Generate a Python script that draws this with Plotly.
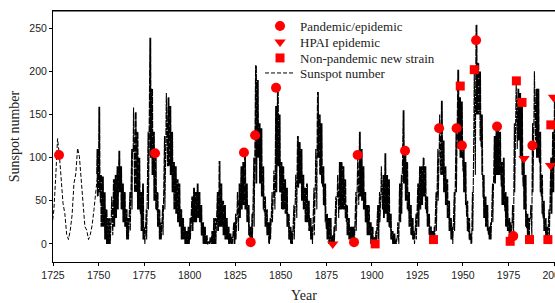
import plotly.graph_objects as go

# ---------------- data ----------------
# yearly sunspot numbers for the early (yearly-resolution) part
early_years = list(range(1724, 1750))
early_ssn = [21, 40, 78, 122, 103, 73, 47, 35, 11, 5, 16, 34, 70, 81, 111,
             101, 73, 40, 20, 16, 5, 11, 22, 40, 60, 81]

# monthly-resolution part, summarised per year: yearly mean, monthly high, monthly low
band_years = list(range(1749, 2001))
band_mean = [80.9,
    83.4, 47.7, 47.8, 30.7, 12.2, 9.6, 10.2, 32.4, 47.6, 54.0,
    62.9, 85.9, 61.2, 45.1, 36.4, 20.9, 11.4, 37.8, 69.8, 106.1,
    100.8, 81.6, 66.5, 34.8, 30.6, 7.0, 19.8, 92.5, 154.4, 125.9,
    84.8, 68.1, 38.5, 22.8, 10.2, 24.1, 82.9, 132.0, 130.9, 118.1,
    89.9, 66.6, 60.0, 46.9, 41.0, 21.3, 16.0, 6.4, 4.1, 6.8,
    14.5, 34.0, 45.0, 43.1, 47.5, 42.2, 28.1, 10.1, 8.1, 2.5,
    0.0, 1.4, 5.0, 12.2, 13.9, 35.4, 45.8, 41.1, 30.1, 23.9,
    15.6, 6.6, 4.0, 1.8, 8.5, 16.6, 36.3, 49.6, 64.2, 67.0,
    70.9, 47.8, 27.5, 8.5, 13.2, 56.9, 121.5, 138.3, 103.2, 85.7,
    64.6, 36.7, 24.2, 10.7, 15.0, 40.1, 61.5, 98.5, 124.7, 96.3,
    66.6, 64.5, 54.1, 39.0, 20.6, 6.7, 4.3, 22.7, 54.8, 93.8,
    95.8, 77.2, 59.1, 44.0, 47.0, 30.5, 16.3, 7.3, 37.6, 74.0,
    139.0, 111.2, 101.6, 66.2, 44.7, 17.0, 11.3, 12.4, 3.4, 6.0,
    32.3, 54.3, 59.7, 63.7, 63.5, 52.2, 25.4, 13.1, 6.8, 6.3,
    7.1, 35.6, 73.0, 85.1, 78.0, 64.0, 41.8, 26.2, 26.7, 12.1,
    9.5, 2.7, 5.0, 24.4, 42.0, 63.5, 53.8, 62.0, 48.5, 43.9,
    18.6, 5.7, 3.6, 1.4, 9.6, 47.4, 57.1, 103.9, 80.6, 63.6,
    37.6, 26.1, 14.2, 5.8, 16.7, 44.3, 63.9, 69.0, 77.8, 64.9,
    35.7, 21.2, 11.1, 5.7, 8.7, 36.1, 79.7, 114.4, 109.6, 88.8,
    67.8, 47.5, 30.6, 16.3, 9.6, 33.2, 92.6, 151.6, 136.3, 134.7,
    83.9, 69.4, 31.5, 13.9, 4.4, 38.0, 141.7, 190.2, 184.8, 159.0,
    112.3, 53.9, 37.6, 27.9, 10.2, 15.1, 47.0, 93.8, 105.9, 105.5,
    104.5, 66.6, 68.9, 38.0, 34.5, 15.5, 12.6, 27.5, 92.5, 155.4,
    154.6, 140.4, 115.9, 66.6, 45.9, 17.9, 13.4, 29.4, 100.2, 157.6,
    142.6, 145.7, 94.3, 54.6, 29.9, 17.5, 8.6, 21.5, 64.3, 93.3,
    119.6]
band_high = [110,
    159, 80, 78, 60, 40, 30, 30, 55, 75, 80,
    90, 108, 90, 70, 60, 40, 30, 60, 110, 158,
    153, 130, 100, 60, 70, 20, 40, 130, 239, 180,
    130, 100, 60, 40, 25, 45, 125, 175, 170, 160,
    130, 95, 90, 75, 70, 40, 30, 20, 15, 20,
    30, 55, 65, 60, 70, 60, 45, 25, 20, 10,
    3, 8, 15, 30, 30, 60, 96, 70, 50, 45,
    30, 20, 12, 8, 25, 35, 60, 70, 90, 95,
    110, 70, 45, 20, 35, 100, 207, 190, 140, 134,
    90, 55, 40, 25, 30, 60, 85, 160, 180, 150,
    95, 90, 75, 65, 35, 20, 15, 45, 80, 125,
    118, 110, 80, 65, 70, 50, 30, 20, 65, 110,
    176, 150, 140, 90, 70, 35, 30, 30, 10, 20,
    55, 80, 95, 95, 90, 75, 45, 30, 20, 20,
    20, 60, 100, 130, 110, 90, 60, 45, 45, 25,
    20, 8, 15, 45, 60, 90, 80, 105, 80, 75,
    35, 15, 12, 6, 25, 70, 80, 155, 110, 95,
    60, 45, 30, 15, 35, 70, 90, 90, 100, 90,
    55, 35, 20, 15, 20, 60, 110, 150, 166, 120,
    90, 75, 50, 30, 20, 60, 130, 202, 170, 165,
    110, 95, 50, 30, 12, 60, 200, 254, 210, 200,
    150, 80, 55, 45, 20, 25, 70, 125, 136, 135,
    130, 95, 100, 60, 55, 30, 25, 45, 140, 189,
    180, 175, 165, 100, 80, 35, 30, 45, 140, 200,
    180, 180, 130, 80, 50, 30, 20, 40, 100, 130,
    170]
band_low = [55,
    60, 20, 20, 5, 0, 0, 0, 10, 20, 30,
    40, 60, 40, 25, 20, 5, 5, 15, 40, 60,
    60, 40, 40, 15, 5, 0, 5, 40, 100, 80,
    50, 40, 20, 5, 5, 10, 40, 90, 90, 80,
    60, 40, 35, 25, 20, 5, 5, 0, 0, 0,
    5, 15, 25, 25, 30, 25, 10, 0, 0, 0,
    0, 0, 0, 0, 0, 15, 20, 20, 10, 5,
    5, 0, 0, 0, 0, 5, 15, 30, 40, 45,
    40, 25, 10, 0, 0, 20, 70, 100, 70, 55,
    40, 20, 10, 0, 5, 25, 40, 60, 90, 60,
    40, 40, 35, 20, 5, 0, 0, 5, 30, 65,
    70, 50, 40, 25, 25, 15, 5, 0, 10, 40,
    100, 80, 70, 45, 25, 5, 0, 0, 0, 0,
    15, 30, 40, 40, 40, 30, 10, 5, 0, 0,
    0, 15, 45, 55, 50, 40, 25, 10, 10, 0,
    0, 0, 0, 5, 25, 40, 30, 35, 25, 20,
    5, 0, 0, 0, 0, 25, 35, 70, 50, 40,
    20, 10, 5, 0, 5, 20, 40, 45, 55, 40,
    20, 10, 5, 0, 0, 15, 50, 80, 80, 60,
    45, 30, 15, 5, 0, 15, 60, 110, 100, 100,
    60, 45, 15, 5, 0, 15, 80, 150, 150, 120,
    80, 30, 20, 15, 5, 5, 25, 70, 80, 80,
    80, 45, 45, 20, 15, 5, 2, 10, 60, 110,
    120, 100, 80, 40, 20, 5, 2, 10, 60, 120,
    100, 100, 60, 35, 15, 5, 2, 5, 35, 60,
    90]

pandemic_years = [1728.3, 1781.0, 1829.8, 1833.5, 1835.9, 1847.4, 1890.2, 1892.2,
                  1918.2, 1936.9, 1946.5, 1949.4, 1957.2, 1968.7, 1977.6, 1988.1]
pandemic_ssn = [103, 105, 106, 2, 126, 181, 2, 103, 108, 134, 134, 114, 236, 136, 9, 114]

hpai_years = [1878.5, 1983.5, 1998.1, 1999.7, 2003.0]
hpai_ssn = [0, 99, 91, 170, 48]

newstrain_years = [1901.8, 1933.8, 1948.5, 1956.2, 1975.9, 1979.3, 1982.4, 1986.5, 1996.6, 1998.2]
newstrain_ssn = [0, 5, 183, 202, 3, 189, 164, 5, 5, 138]

x_ticks = [1725, 1750, 1775, 1800, 1825, 1850, 1875, 1900, 1925, 1950, 1975, 2000]
y_ticks = [0, 50, 100, 150, 200, 250]

if not (len(band_years) == len(band_mean) == len(band_high) == len(band_low)):
    raise ValueError("band arrays differ in length: %d %d %d %d" % (
        len(band_years), len(band_mean), len(band_high), len(band_low)))

# ---------------- build sunspot lines ----------------
early_x = [y + 0.5 for y in early_years]
band_x, band_y = [], []
for y, m, h, l in zip(band_years, band_mean, band_high, band_low):
    band_x += [y, y + 0.2, y + 0.4, y + 0.6, y + 0.8]
    band_y += [m, h, l, h, l]

SERIF = "Liberation Serif, Times New Roman, serif"
SANS = "Liberation Sans, Arial, sans-serif"
RED = "#ff0000"

fig = go.Figure()
fig.add_trace(go.Scatter(
    x=band_x, y=band_y, mode="lines", name="Sunspot number", showlegend=False,
    line=dict(color="black", width=1.1, dash="7px,1px")))
fig.add_trace(go.Scatter(
    x=early_x, y=early_ssn, mode="lines", name="Sunspot number",
    line=dict(color="black", width=1, dash="4px,2px"), legend="legend4"))
fig.add_trace(go.Scatter(
    x=pandemic_years, y=pandemic_ssn, mode="markers", name="Pandemic/epidemic",
    marker=dict(symbol="circle", size=10, color=RED), cliponaxis=False, legend="legend"))
fig.add_trace(go.Scatter(
    x=hpai_years, y=hpai_ssn, mode="markers", name="HPAI epidemic",
    marker=dict(symbol="triangle-down", size=10, color=RED), cliponaxis=False, legend="legend2"))
fig.add_trace(go.Scatter(
    x=newstrain_years, y=newstrain_ssn, mode="markers", name="Non-pandemic new strain",
    marker=dict(symbol="square", size=9, color=RED), cliponaxis=False, legend="legend3"))

leg_common = dict(x=0.4124, xanchor="left", yanchor="top", bgcolor="rgba(0,0,0,0)",
                  borderwidth=0, font=dict(family=SERIF, size=13, color="#222"))
fig.update_layout(
    width=555, height=303,
    margin=dict(l=53, r=0, t=11, b=41),
    paper_bgcolor="white", plot_bgcolor="white",
    showlegend=True,
    hovermode=False,
    legend=dict(y=1.0, **leg_common),
    legend2=dict(y=0.936, **leg_common),
    legend3=dict(y=0.8725, **leg_common),
    legend4=dict(y=0.8127, **leg_common),
    shapes=[dict(type="line", xref="paper", yref="paper", x0=0, x1=1, y0=1, y1=1,
                 line=dict(color="black", width=1))],
    xaxis=dict(range=[1725, 2000.5], tickvals=x_ticks, ticks="outside", ticklen=3,
               tickcolor="black", showline=True, linecolor="black", linewidth=1,
               mirror=True, showgrid=False, zeroline=False, automargin=False,
               ticklabeloverflow="allow",
               tickfont=dict(family=SANS, size=10.5, color="#222"),
               title=dict(text="Year", font=dict(family=SERIF, size=14, color="#222"), standoff=10)),
    yaxis=dict(range=[-21, 270], tickvals=y_ticks, ticks="outside", ticklen=3,
               tickcolor="black", showline=True, linecolor="black", linewidth=1,
               mirror=False, showgrid=False, zeroline=False, automargin=False,
               tickfont=dict(family=SANS, size=10.5, color="#222"),
               title=dict(text="Sunspot number", font=dict(family=SERIF, size=14, color="#222"), standoff=6)),
)

# remove the browser's default page margin so the 555x303 figure fills the window exactly
fig.write_html(
    "out.html",
    config={"displayModeBar": False, "staticPlot": True},
    post_script="document.body.style.margin='0';"
                "document.documentElement.style.overflow='hidden';"
                "document.body.style.overflow='hidden';",
)
